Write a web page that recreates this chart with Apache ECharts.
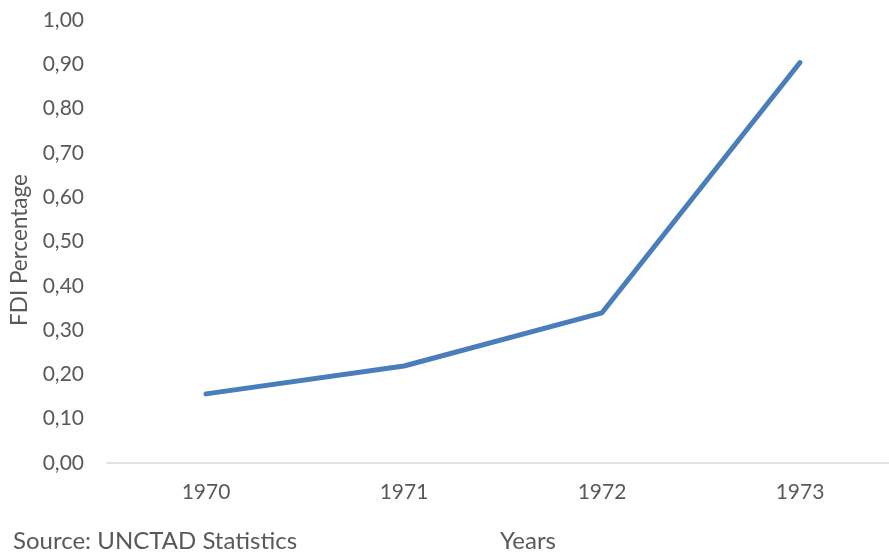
<!DOCTYPE html>
<html>
<head>
<meta charset="utf-8">
<script src="https://cdn.jsdelivr.net/npm/echarts@6/dist/echarts.min.js"></script>
<style>
  html, body { margin: 0; padding: 0; background: #fff; }
  #chart { width: 889px; height: 554px; }
</style>
</head>
<body>
<div id="chart"></div>
<script>
// FDI share by year
const years = ['1970', '1971', '1972', '1973'];
const fdiPercentage = [0.156, 0.219, 0.339, 0.904];
const yTicks = { min: 0, max: 1, interval: 0.1 };

const textColor = '#595959';
const fontFamily = 'Lato, "Open Sans", sans-serif';
const fontSize = 21;

const chart = echarts.init(document.getElementById('chart'));
chart.setOption({
  animation: false,
  textStyle: { fontFamily: fontFamily },
  grid: { left: 107, top: 20, width: 792, height: 443, outerBoundsMode: 'none', containLabel: false },
  xAxis: {
    type: 'category',
    data: years,
    boundaryGap: true,
    axisLine: { lineStyle: { color: '#d9d9d9', width: 1.5 } },
    axisTick: { show: false },
    axisLabel: { color: textColor, fontSize: fontSize, margin: 19, fontFamily: fontFamily }
  },
  yAxis: {
    type: 'value',
    min: yTicks.min,
    max: yTicks.max,
    interval: yTicks.interval,
    splitLine: { show: false },
    axisLine: { show: false },
    axisTick: { show: false },
    axisLabel: {
      color: textColor, fontSize: fontSize, margin: 23, fontFamily: fontFamily,
      formatter: v => v.toFixed(2).replace('.', ',')
    }
  },
  graphic: [
    { type: 'text', x: 20, y: 250, rotation: Math.PI / 2,
      style: { text: 'FDI Percentage', fill: textColor, fontSize: 22.5, fontFamily: fontFamily,
               align: 'center', verticalAlign: 'middle' } },
    { type: 'text', x: 13, y: 541,
      style: { text: 'Source: UNCTAD Statistics', fill: textColor, fontSize: 24, fontFamily: fontFamily,
               align: 'left', verticalAlign: 'middle' } },
    { type: 'text', x: 500, y: 541,
      style: { text: 'Years', fill: textColor, fontSize: 24, fontFamily: fontFamily,
               align: 'left', verticalAlign: 'middle' } }
  ],
  series: [{
    type: 'line',
    data: fdiPercentage,
    showSymbol: false,
    symbol: 'none',
    lineStyle: { color: '#4a7ebb', width: 5, cap: 'round', join: 'round' }
  }]
});
</script>
</body>
</html>
